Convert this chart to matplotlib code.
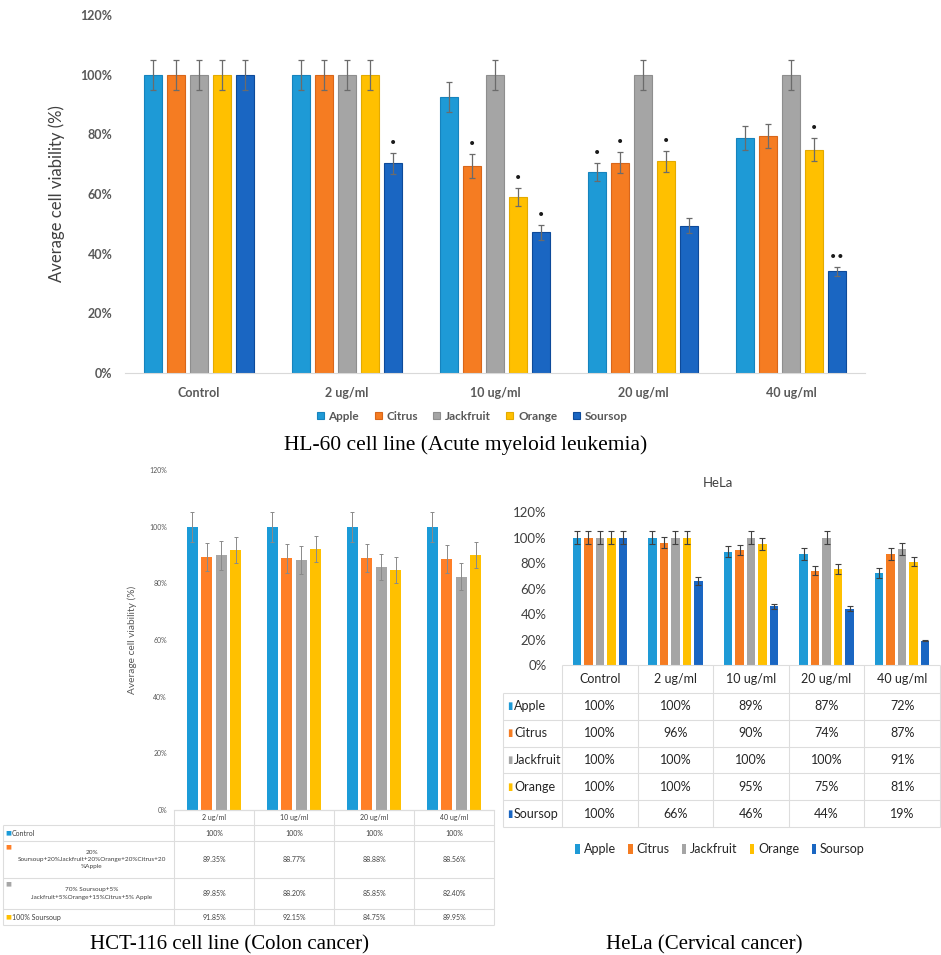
import matplotlib.pyplot as plt
import numpy as np

W, H = 941, 955
EXCEL = "Lato"
SERIF = "Liberation Serif"
SQ = "DejaVu Sans"

fruits = ["Apple", "Citrus", "Jackfruit", "Orange", "Soursop"]
fruit_colors = ["#1E9AD6", "#F57C22", "#A5A5A5", "#FFC000", "#1A66C2"]
fruit_edges = ["#1683BD", "#D8661A", "#8E8E8E", "#E3AA00", "#0D4A9A"]

# HL-60 panel
hl_doses = ["Control", "2 ug/ml", "10 ug/ml", "20 ug/ml", "40 ug/ml"]
hl_apple = [100, 100, 92.4, 67.3, 78.8]
hl_citrus = [100, 100, 69.4, 70.5, 79.3]
hl_jackfruit = [100, 100, 100, 100, 99.8]
hl_orange = [100, 100, 59, 71, 74.9]
hl_soursop = [100, 70.3, 47.1, 49.4, 34.1]
hl_apple_err = [5, 5, 5, 3, 4]
hl_citrus_err = [5, 5, 4, 3.5, 4]
hl_jackfruit_err = [5, 5, 5, 5, 5]
hl_orange_err = [5, 5, 3, 3.5, 4]
hl_soursop_err = [5, 3.5, 2.5, 2.5, 1.5]
hl_apple_sig = ["", "", "", "•", ""]
hl_citrus_sig = ["", "", "•", "•", ""]
hl_jackfruit_sig = ["", "", "", "", ""]
hl_orange_sig = ["", "", "•", "•", "•"]
hl_soursop_sig = ["", "•", "•", "", "••"]

# HCT-116 panel
hct_doses = ["2 ug/ml", "10 ug/ml", "20 ug/ml", "40 ug/ml"]
hct_treatments = ["Control",
                  "20%\nSoursoup+20%Jackfruit+20%Orange+20%Citrus+20\n%Apple",
                  "70% Soursoup+5%\nJackfruit+5%Orange+15%Citrus+5% Apple",
                  "100% Soursoup"]
hct_colors = ["#1B9BD8", "#FF7F27", "#A6A6A6", "#FFC000"]
hct_control = [100, 100, 100, 100]
hct_mix20 = [89.35, 88.77, 88.88, 88.56]
hct_mix70 = [89.85, 88.20, 85.85, 82.40]
hct_soursop = [91.85, 92.15, 84.75, 89.95]
hct_control_err = [5.3, 5.3, 5.3, 5.3]
hct_mix20_err = [5, 5, 5, 4.8]
hct_mix70_err = [5, 5, 4.5, 4.6]
hct_soursop_err = [4.5, 4.5, 4.6, 4.6]

# HeLa panel
hela_doses = ["Control", "2 ug/ml", "10 ug/ml", "20 ug/ml", "40 ug/ml"]
hela_apple = [100, 100, 89, 87, 72]
hela_citrus = [100, 96, 90, 74, 87]
hela_jackfruit = [100, 100, 100, 100, 91]
hela_orange = [100, 100, 95, 75, 81]
hela_soursop = [100, 66, 46, 44, 19]
hela_apple_err = [5, 5, 4, 4.5, 4]
hela_citrus_err = [5, 4.5, 4, 3.5, 4.5]
hela_jackfruit_err = [5, 5, 5, 5, 4.5]
hela_orange_err = [5, 5, 4.5, 4, 3.5]
hela_soursop_err = [5, 3, 2, 2, 0.5]

yticks = np.arange(0, 121, 20)

fig = plt.figure(figsize=(W / 100, H / 100), dpi=100)


def px_axes(x0, y0, x1, y1):
    return fig.add_axes([x0 / W, 1 - y1 / H, (x1 - x0) / W, (y1 - y0) / H])


def table_axes(x0, y0, x1, y1):
    t = px_axes(x0, y0, x1, y1)
    t.set_xlim(x0, x1)
    t.set_ylim(y1, y0)
    t.axis("off")
    return t


def clean(ax, axis_color):
    for s in ["top", "right", "left"]:
        ax.spines[s].set_visible(False)
    ax.spines["bottom"].set_color(axis_color)
    ax.tick_params(length=0)
    ax.set_ylim(0, 120)
    ax.set_yticks(yticks)
    ax.set_yticklabels([f"{v}%" for v in yticks])


# ---------- HL-60 ----------
ax1 = px_axes(125, 15, 865, 373)
x = np.arange(len(hl_doses))
hl_vals = [hl_apple, hl_citrus, hl_jackfruit, hl_orange, hl_soursop]
hl_errs = [hl_apple_err, hl_citrus_err, hl_jackfruit_err, hl_orange_err, hl_soursop_err]
hl_sigs = [hl_apple_sig, hl_citrus_sig, hl_jackfruit_sig, hl_orange_sig, hl_soursop_sig]
step = 0.155
for i, name in enumerate(fruits):
    pos = x + (i - 2) * step
    ax1.bar(pos, hl_vals[i], 0.118, color=fruit_colors[i], edgecolor=fruit_edges[i],
            linewidth=0.8, label=name, yerr=hl_errs[i],
            error_kw=dict(ecolor="#6b6b6b", elinewidth=0.9, capsize=2.2, capthick=0.9))
    for p, v, e, s in zip(pos, hl_vals[i], hl_errs[i], hl_sigs[i]):
        if s:
            ax1.text(p, v + e + 1.0, s, ha="center", va="bottom", fontsize=10,
                     color="#1a1a1a", family=SQ)
clean(ax1, "#D9D9D9")
ax1.set_xlim(-0.5, len(hl_doses) - 0.5)
ax1.set_xticks(x)
ax1.set_xticklabels(hl_doses)
ax1.tick_params(axis="x", pad=10)
ax1.tick_params(axis="y", pad=9)
for lab in ax1.get_xticklabels() + ax1.get_yticklabels():
    lab.set_fontfamily(EXCEL)
    lab.set_fontweight("bold")
    lab.set_fontsize(9)
    lab.set_color("#595959")
ax1.set_ylabel("Average cell viability (%)", fontsize=12, family=EXCEL, color="#404040",
               labelpad=11)
leg = ax1.legend(loc="center", bbox_to_anchor=((472 - 125) / 740, (373 - 416) / 358), ncol=5,
                 frameon=False, handlelength=0.6, handleheight=0.6, handletextpad=0.4,
                 columnspacing=1.3, prop=dict(family=EXCEL, weight="bold", size=8.5))
for t in leg.get_texts():
    t.set_color("#595959")
fig.text(466 / W, 1 - 445 / H, "HL-60 cell line (Acute myeloid leukemia)", family=SERIF,
         fontsize=15.5, ha="center", va="center")

# ---------- HCT-116 ----------
ax2 = px_axes(174, 470, 494, 810)
x2 = np.arange(len(hct_doses))
hct_vals = [hct_control, hct_mix20, hct_mix70, hct_soursop]
hct_errs = [hct_control_err, hct_mix20_err, hct_mix70_err, hct_soursop_err]
for i in range(4):
    ax2.bar(x2 + (i - 1.5) * 0.182, hct_vals[i], 0.14, color=hct_colors[i], yerr=hct_errs[i],
            error_kw=dict(ecolor="#8a8a8a", elinewidth=0.7, capsize=1.6, capthick=0.7))
clean(ax2, "#D9D9D9")
ax2.set_xlim(-0.5, len(hct_doses) - 0.5)
ax2.set_xticks([])
ax2.tick_params(axis="y", pad=5, labelsize=5, labelcolor="#595959")
for lab in ax2.get_yticklabels():
    lab.set_fontfamily(EXCEL)
ax2.set_ylabel("Average cell viability (%)", fontsize=7.3, family=EXCEL, color="#595959",
               labelpad=9)

t2 = table_axes(3, 810, 494, 925)
row_edges = [810, 825, 841, 878, 909, 925]
col_edges = np.linspace(174, 494, len(hct_doses) + 1)
lc = "#DDDDDD"
t2.hlines(row_edges[0], col_edges[0], col_edges[-1], color=lc, lw=0.8, clip_on=False)
t2.hlines(row_edges[1:], 3, col_edges[-1], color=lc, lw=0.8, clip_on=False)
t2.vlines(col_edges, row_edges[0], row_edges[-1], color=lc, lw=0.8, clip_on=False)
t2.vlines(3, row_edges[1], row_edges[-1], color=lc, lw=0.8, clip_on=False)
for j, d in enumerate(hct_doses):
    cx = (col_edges[j] + col_edges[j + 1]) / 2
    t2.text(cx, (row_edges[0] + row_edges[1]) / 2, d, ha="center", va="center", fontsize=5,
            family=EXCEL, color="#404040")
for i, name in enumerate(hct_treatments):
    top, bot = row_edges[i + 1], row_edges[i + 2]
    cy = (top + bot) / 2
    if "\n" in name:
        t2.text(5, top + 6, "■", ha="left", va="center", fontsize=4.5, color=hct_colors[i],
                family=SQ)
        t2.text(92, cy, name, ha="center", va="center", fontsize=4.6, family=EXCEL,
                color="#404040", linespacing=1.6)
    else:
        t2.text(5, cy, "■", ha="left", va="center", fontsize=4.5, color=hct_colors[i], family=SQ)
        t2.text(12, cy, name, ha="left", va="center", fontsize=5, family=EXCEL, color="#404040")
    for j, v in enumerate(hct_vals[i]):
        cx = (col_edges[j] + col_edges[j + 1]) / 2
        txt = "100%" if v == 100 else f"{v:.2f}%"
        t2.text(cx, cy, txt, ha="center", va="center", fontsize=5, family=EXCEL, color="#404040")
fig.text(229 / W, 1 - 945 / H, "HCT-116 cell line (Colon cancer)", family=SERIF,
         fontsize=15, ha="center", va="center")

# ---------- HeLa ----------
ax3 = px_axes(562, 512, 940, 665)
x3 = np.arange(len(hela_doses))
hela_vals = [hela_apple, hela_citrus, hela_jackfruit, hela_orange, hela_soursop]
hela_errs = [hela_apple_err, hela_citrus_err, hela_jackfruit_err, hela_orange_err, hela_soursop_err]
for i, name in enumerate(fruits):
    ax3.bar(x3 + (i - 2) * 0.152, hela_vals[i], 0.112, color=fruit_colors[i], label=name,
            yerr=hela_errs[i],
            error_kw=dict(ecolor="#404040", elinewidth=0.8, capsize=2, capthick=0.8))
clean(ax3, "#D9D9D9")
ax3.spines["bottom"].set_visible(False)
ax3.set_xlim(-0.5, len(hela_doses) - 0.5)
ax3.set_xticks([])
ax3.tick_params(axis="y", pad=11, labelsize=9.5, labelcolor="#404040")
for lab in ax3.get_yticklabels():
    lab.set_fontfamily(EXCEL)
ax3.set_title("HeLa", x=(718 - 562) / 378, y=1.11, fontsize=9.5, family=EXCEL,
              color="#404040")

t3 = table_axes(503, 665, 940, 827)
row_edges3 = np.linspace(693, 827, len(fruits) + 1)
col_edges3 = np.linspace(562, 940, len(hela_doses) + 1)
t3.hlines(665, col_edges3[0], col_edges3[-1], color=lc, lw=0.8, clip_on=False)
t3.hlines(row_edges3, 503, col_edges3[-1], color=lc, lw=0.8, clip_on=False)
t3.vlines(col_edges3, 665, row_edges3[-1], color=lc, lw=0.8, clip_on=False)
t3.vlines(503, row_edges3[0], row_edges3[-1], color=lc, lw=0.8, clip_on=False)
for j, d in enumerate(hela_doses):
    cx = (col_edges3[j] + col_edges3[j + 1]) / 2
    t3.text(cx, (665 + row_edges3[0]) / 2, d, ha="center", va="center", fontsize=9,
            family=EXCEL, color="#262626")
for i, name in enumerate(fruits):
    cy = (row_edges3[i] + row_edges3[i + 1]) / 2
    t3.text(507, cy, "▮", ha="left", va="center", fontsize=7, color=fruit_colors[i], family=SQ)
    t3.text(514, cy, name, ha="left", va="center", fontsize=9, family=EXCEL, color="#262626")
    for j, v in enumerate(hela_vals[i]):
        cx = (col_edges3[j] + col_edges3[j + 1]) / 2
        t3.text(cx, cy, f"{v:.0f}%", ha="center", va="center", fontsize=9, family=EXCEL,
                color="#262626")
leg3 = ax3.legend(loc="center", bbox_to_anchor=((720 - 562) / 378, (665 - 849) / 153), ncol=5,
                  frameon=False, handlelength=0.35, handleheight=0.9, handletextpad=0.3,
                  columnspacing=1.0, prop=dict(family=EXCEL, size=9))
for t in leg3.get_texts():
    t.set_color("#262626")
fig.text(704 / W, 1 - 945 / H, "HeLa (Cervical cancer)", family=SERIF,
         fontsize=15, ha="center", va="center")

fig.savefig("out.png", dpi=100)
